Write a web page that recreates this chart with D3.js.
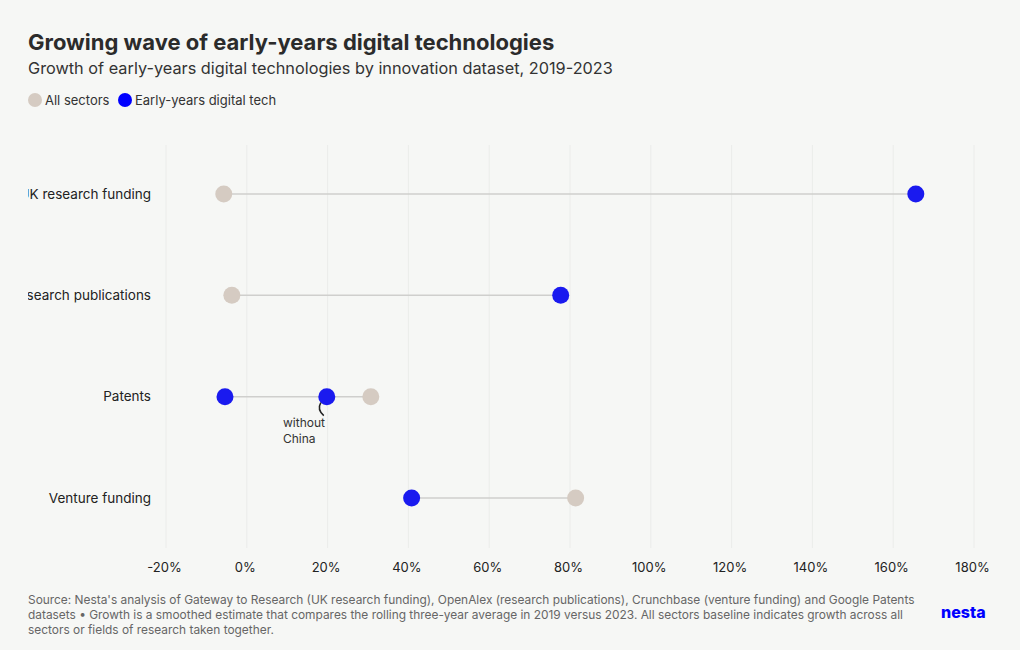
<!DOCTYPE html>
<html><head><meta charset="utf-8">
<script src="https://cdn.jsdelivr.net/npm/d3@7"></script>
<style>
body{margin:0;background:#f6f7f5;}
svg{display:block;font-family:Inter, "Noto Sans", sans-serif;}
</style></head><body>
<svg id="c" width="1020" height="650"></svg>
<script>
const categories = ["UK research funding","Research publications","Patents","Venture funding"];
const allSectors = [-5.7, -3.7, 30.7, 81.4];
const earlyYears = [165.6, 77.7, -5.4, 40.8];
const earlyYearsNoChina = [null, null, 19.8, null];
const xTicks = [-20,0,20,40,60,80,100,120,140,160,180];

const svg = d3.select("#c");
svg.append("rect").attr("width",1020).attr("height",650).attr("fill","#f6f7f5");

const C_ALL = "#d5cbc2", C_EY = "#1a1aef";

svg.append("text").attr("x",28).attr("y",50).text("Growing wave of early-years digital technologies")
  .attr("font-size",22).attr("font-weight",700).attr("fill","#2b2b2b");
svg.append("text").attr("x",28).attr("y",74).text("Growth of early-years digital technologies by innovation dataset, 2019-2023")
  .attr("font-size",16.3).attr("fill","#333");

// legend
const leg = svg.append("g");
leg.append("circle").attr("cx",35).attr("cy",100).attr("r",7).attr("fill",C_ALL);
leg.append("text").attr("x",45).attr("y",105).text("All sectors").attr("font-size",13).attr("fill","#333");
leg.append("circle").attr("cx",125).attr("cy",100).attr("r",7).attr("fill","#0000ff");
leg.append("text").attr("x",135).attr("y",105).text("Early-years digital tech").attr("font-size",13).attr("fill","#333");

const x = d3.scaleLinear().domain([-20,180]).range([166,974]);
const y = d3.scalePoint().domain(categories).range([194,498]);

// grid
svg.append("g").selectAll("line").data(xTicks).join("line")
  .attr("x1",d=>x(d)).attr("x2",d=>x(d)).attr("y1",145).attr("y2",548)
  .attr("stroke","#ebecea").attr("stroke-width",1);

// x axis
const xAxis = d3.axisBottom(x).tickValues(xTicks).tickFormat(d=>d+"%").tickSize(0).tickPadding(0);
const gx = svg.append("g").attr("transform","translate(-2,563)").call(xAxis);
gx.select(".domain").remove();
gx.selectAll("text").attr("font-size",13).attr("fill","#222").attr("font-family","Inter, 'Noto Sans', sans-serif");

// y labels clipped
svg.append("clipPath").attr("id","lc").append("rect").attr("x",28).attr("y",140).attr("width",200).attr("height",420);
const yAxis = d3.axisLeft(y).tickSize(0).tickPadding(0);
const gy = svg.append("g").attr("clip-path","url(#lc)").append("g").attr("transform","translate(151,0)").call(yAxis);
gy.select(".domain").remove();
gy.selectAll("text").attr("font-size",13.5).attr("fill","#222").attr("font-family","Inter, 'Noto Sans', sans-serif");

const rows = categories.map((c,i)=>({c, a:allSectors[i], e:earlyYears[i], n:earlyYearsNoChina[i]}));

// connectors
svg.append("g").selectAll("line").data(rows).join("line")
  .attr("x1",d=>x(d3.min([d.a,d.e,d.n].filter(v=>v!=null))))
  .attr("x2",d=>x(d3.max([d.a,d.e,d.n].filter(v=>v!=null))))
  .attr("y1",d=>y(d.c)).attr("y2",d=>y(d.c))
  .attr("stroke","#cfcfcd").attr("stroke-width",1.5);

svg.append("g").selectAll("circle").data(rows).join("circle")
  .attr("cx",d=>x(d.a)).attr("cy",d=>y(d.c)).attr("r",8.5).attr("fill",C_ALL);
svg.append("g").selectAll("circle").data(rows).join("circle")
  .attr("cx",d=>x(d.e)).attr("cy",d=>y(d.c)).attr("r",8.5).attr("fill",C_EY);
svg.append("g").selectAll("circle").data(rows.filter(d=>d.n!=null)).join("circle")
  .attr("cx",d=>x(d.n)).attr("cy",d=>y(d.c)).attr("r",8.5).attr("fill",C_EY);

// annotation
const pr = rows[2];
const ax = x(pr.n), ay = y(pr.c);
svg.append("path").attr("d",`M${ax-6},${ay+6} Q${ax-10},${ay+13} ${ax-3},${ay+19}`)
  .attr("fill","none").attr("stroke","#222").attr("stroke-width",1.5);
const at = svg.append("text").attr("font-size",12).attr("fill","#333");
at.append("tspan").attr("x",283).attr("y",427).text("without");
at.append("tspan").attr("x",283).attr("y",443).text("China");

// footer
const ft = svg.append("text").attr("font-size",11.9).attr("fill","#666");
["Source: Nesta's analysis of Gateway to Research (UK research funding), OpenAlex (research publications), Crunchbase (venture funding) and Google Patents",
 "datasets • Growth is a smoothed estimate that compares the rolling three-year average in 2019 versus 2023. All sectors baseline indicates growth across all",
 "sectors or fields of research taken together."].forEach((t,i)=>ft.append("tspan").attr("x",28).attr("y",604+i*15).text(t));
svg.append("text").attr("x",941).attr("y",618).text("nesta").attr("font-size",16).attr("font-weight",800).attr("fill","#0000ff");
</script></body></html>
